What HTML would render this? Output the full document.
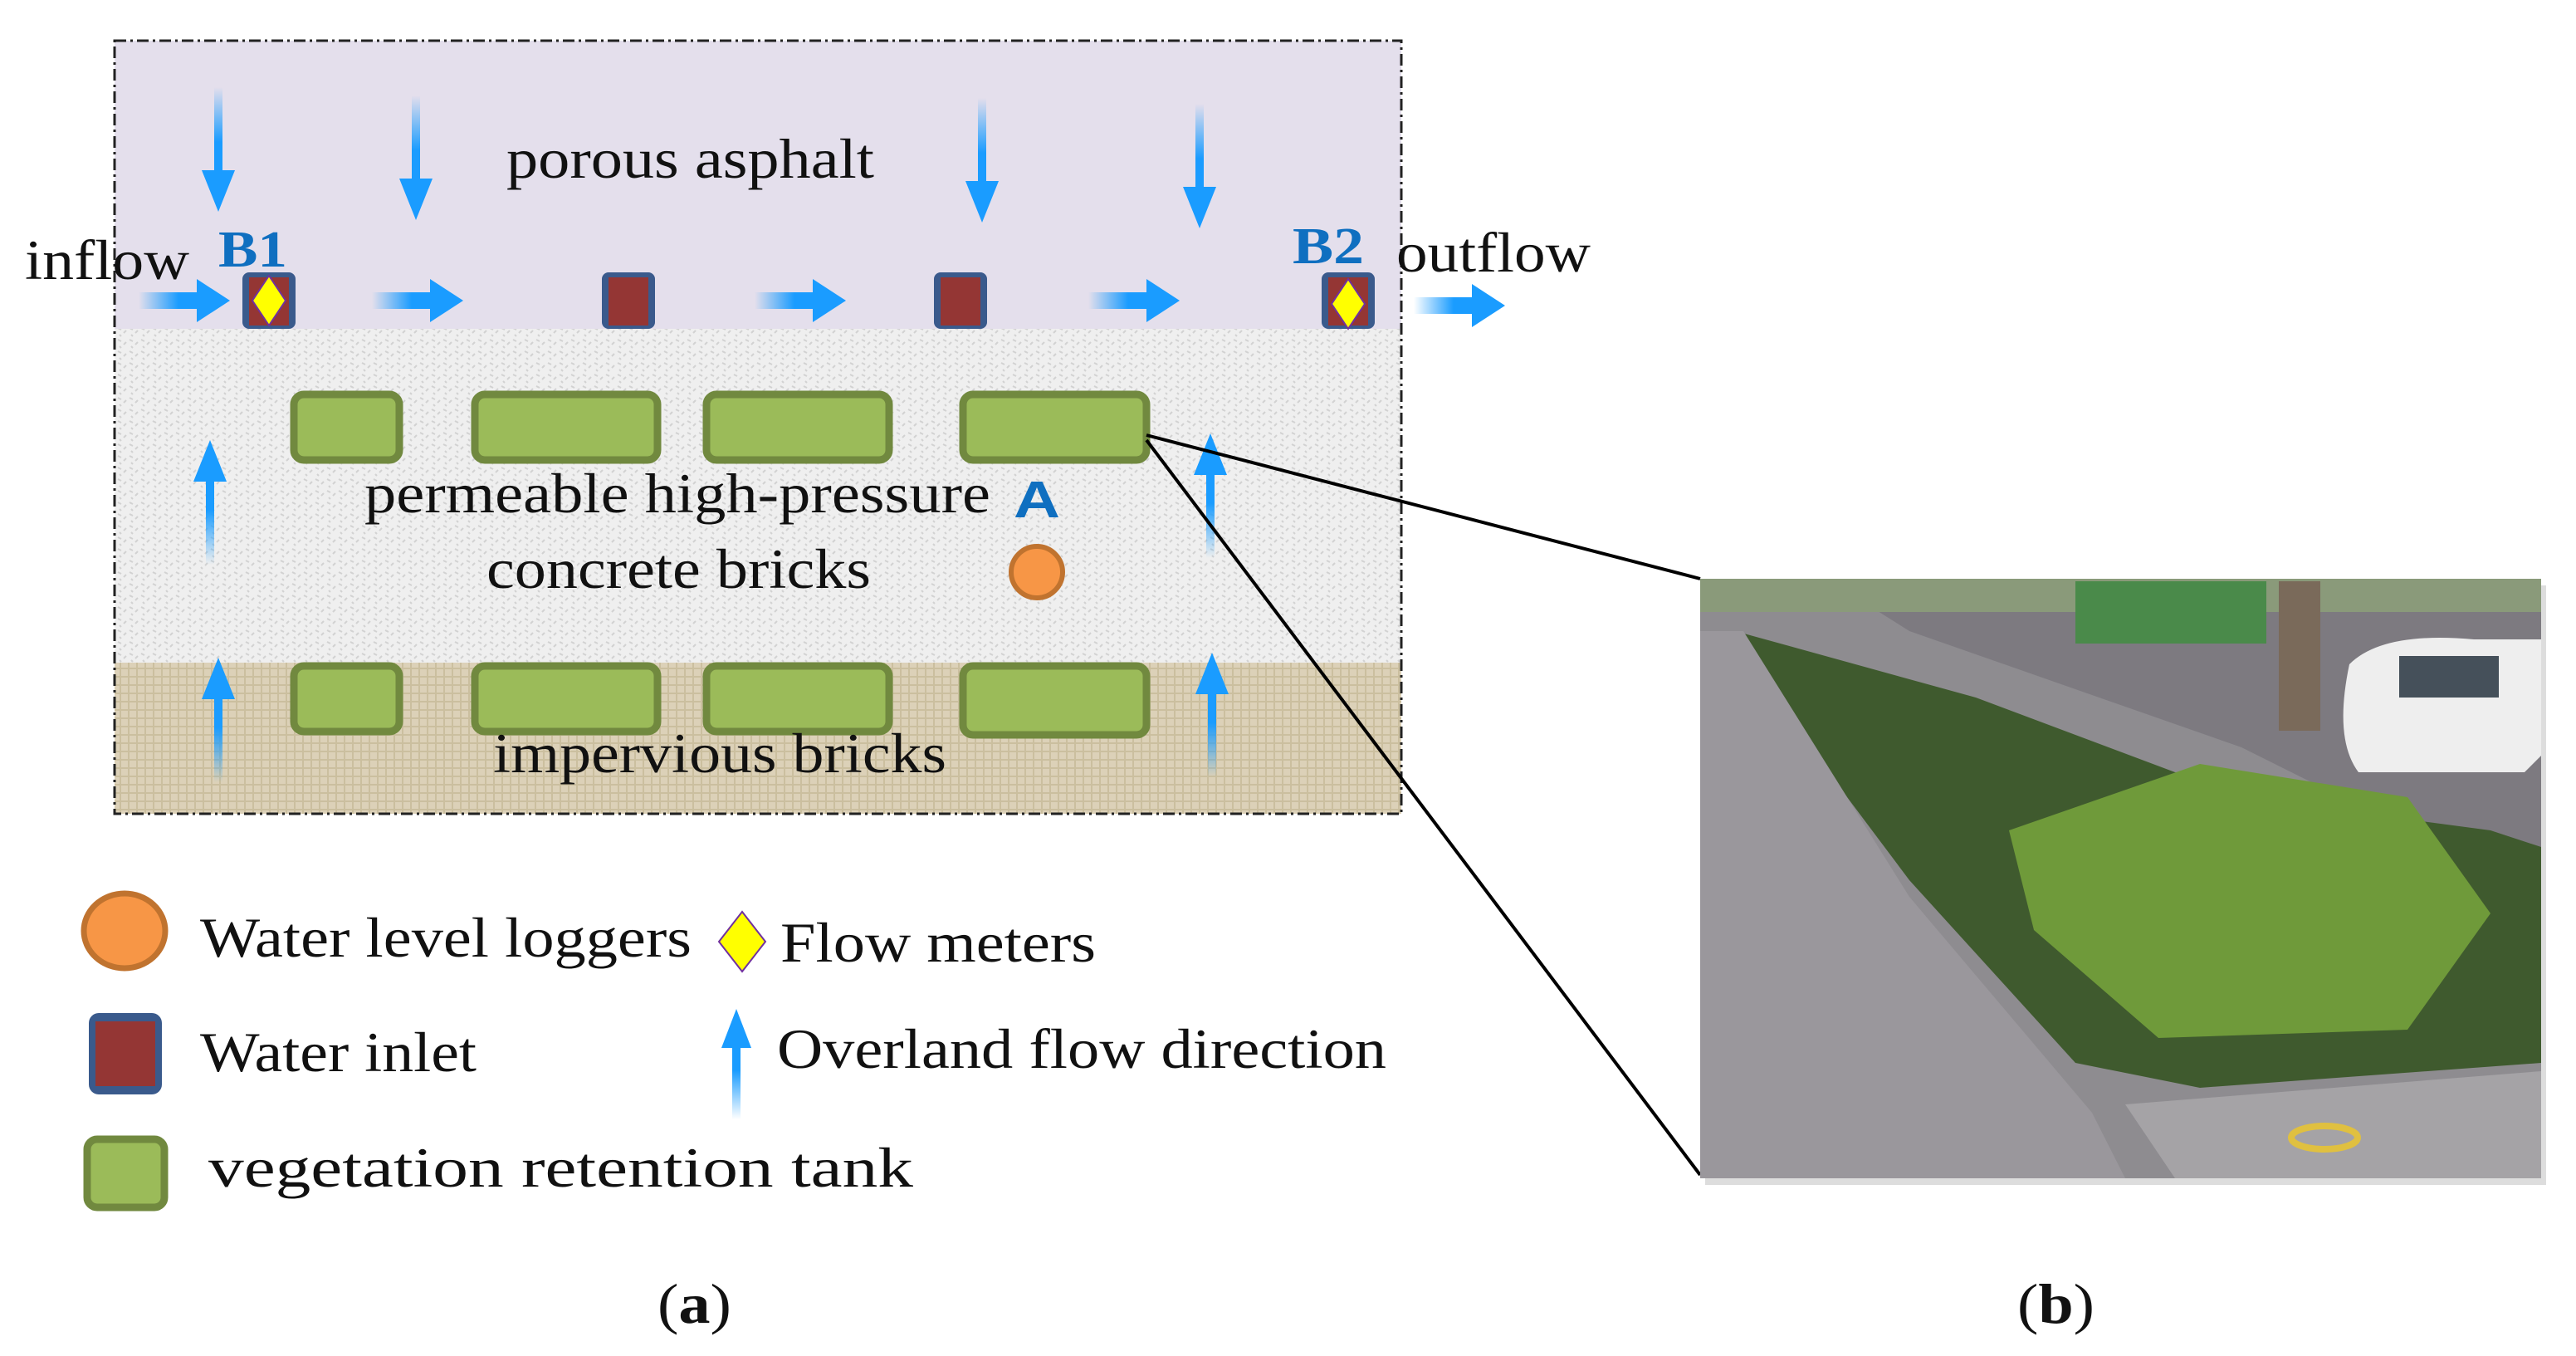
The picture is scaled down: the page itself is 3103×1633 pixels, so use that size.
<!DOCTYPE html>
<html><head><meta charset="utf-8"><style>html,body{margin:0;padding:0;background:#fff}svg{display:block}</style></head><body>
<svg width="3103" height="1633" viewBox="0 0 3103 1633" xmlns="http://www.w3.org/2000/svg" font-family="'Liberation Serif', serif">
<defs>
<linearGradient id="gd" x1="0" y1="0" x2="0" y2="1"><stop offset="0" stop-color="#1a9cff" stop-opacity="0"/><stop offset="0.6" stop-color="#1a9cff"/></linearGradient>
<linearGradient id="gu" x1="0" y1="1" x2="0" y2="0"><stop offset="0" stop-color="#1a9cff" stop-opacity="0"/><stop offset="0.6" stop-color="#1a9cff"/></linearGradient>
<linearGradient id="gr" x1="0" y1="0" x2="1" y2="0"><stop offset="0" stop-color="#1a9cff" stop-opacity="0"/><stop offset="0.6" stop-color="#1a9cff"/></linearGradient>
<pattern id="conc" width="14" height="14" patternUnits="userSpaceOnUse"><rect width="14" height="14" fill="#efefef"/><path d="M2 3l4 2M9 9l3-3M4 11l2 2" stroke="#d2d2d2" stroke-width="2"/></pattern>
<pattern id="burl" width="10" height="10" patternUnits="userSpaceOnUse"><rect width="10" height="10" fill="#dcd1b8"/><path d="M0 5h10M5 0v10" stroke="#cbbf9f" stroke-width="2"/></pattern>
<g id="dn"><rect x="-5" y="-150" width="10" height="110" fill="url(#gd)"/><polygon points="-20,-50 20,-50 0,0" fill="#1a9cff"/></g>
<g id="up"><rect x="-5" y="40" width="10" height="110" fill="url(#gu)"/><polygon points="-20,50 20,50 0,0" fill="#1a9cff"/></g>
<g id="rt"><rect x="-110" y="-10" width="80" height="20" fill="url(#gr)"/><polygon points="-40,-26 -40,26 0,0" fill="#1a9cff"/></g>
<g id="inl"><rect x="-32" y="-30" width="64" height="68" rx="8" fill="#3a5a8c"/><rect x="-24" y="-24" width="48" height="58" fill="#943634"/></g>
</defs>
<rect x="138" y="49" width="1550" height="347" fill="#e4dfec"/>
<rect x="138" y="396" width="1550" height="402" fill="url(#conc)"/>
<rect x="138" y="798" width="1550" height="182" fill="url(#burl)"/>
<rect x="138" y="49" width="1550" height="931" fill="none" stroke="#222" stroke-width="3" stroke-dasharray="14,5,3,5"/>
<use href="#dn" x="263" y="255"/><use href="#dn" x="501" y="265"/><use href="#dn" x="1183" y="268"/><use href="#dn" x="1445" y="275"/>
<use href="#rt" x="277" y="362"/><use href="#rt" x="558" y="362"/><use href="#rt" x="1019" y="362"/><use href="#rt" x="1421" y="362"/><use href="#rt" x="1813" y="368"/>
<use href="#inl" x="324" y="358"/><use href="#inl" x="757" y="358"/><use href="#inl" x="1157" y="358"/><use href="#inl" x="1624" y="358"/>
<polygon points="324,332 344,362 324,392 304,362" fill="#ffff00" stroke="#7030a0" stroke-width="2"/>
<polygon points="1624,336 1644,366 1624,396 1604,366" fill="#ffff00" stroke="#7030a0" stroke-width="2"/>
<g fill="#9bbb59" stroke="#71893f" stroke-width="9">
<rect x="354" y="475" width="127" height="79" rx="12"/><rect x="572" y="475" width="220" height="79" rx="12"/><rect x="851" y="475" width="220" height="79" rx="12"/><rect x="1160" y="475" width="221" height="79" rx="12"/>
<rect x="354" y="802" width="127" height="79" rx="12"/><rect x="572" y="802" width="220" height="79" rx="12"/><rect x="851" y="802" width="220" height="79" rx="12"/><rect x="1160" y="802" width="221" height="83" rx="12"/>
</g>
<use href="#up" x="253" y="530"/><use href="#up" x="1458" y="522"/><use href="#up" x="263" y="792"/><use href="#up" x="1460" y="786"/>
<circle cx="1249" cy="689" r="31" fill="#f79646" stroke="#c0732f" stroke-width="6"/>
<g fill="#111" font-size="68">
<text x="610" y="214" textLength="443" lengthAdjust="spacingAndGlyphs">porous asphalt</text>
<text x="30" y="336" textLength="198" lengthAdjust="spacingAndGlyphs">inflow</text>
<text x="1682" y="327" textLength="234" lengthAdjust="spacingAndGlyphs">outflow</text>
<text x="439" y="617" textLength="754" lengthAdjust="spacingAndGlyphs">permeable high-pressure</text>
<text x="586" y="708" textLength="463" lengthAdjust="spacingAndGlyphs">concrete bricks</text>
<text x="594" y="930" textLength="546" lengthAdjust="spacingAndGlyphs">impervious bricks</text>
<text x="241" y="1152" textLength="592" lengthAdjust="spacingAndGlyphs">Water level loggers</text>
<text x="940" y="1158" textLength="380" lengthAdjust="spacingAndGlyphs">Flow meters</text>
<text x="241" y="1290" textLength="333" lengthAdjust="spacingAndGlyphs">Water inlet</text>
<text x="936" y="1286" textLength="734" lengthAdjust="spacingAndGlyphs">Overland flow direction</text>
<text x="251" y="1429" textLength="849" lengthAdjust="spacingAndGlyphs">vegetation retention tank</text>
<text x="792" y="1593" textLength="89" lengthAdjust="spacingAndGlyphs">(<tspan font-weight="bold">a</tspan>)</text>
<text x="2430" y="1593" textLength="93" lengthAdjust="spacingAndGlyphs">(<tspan font-weight="bold">b</tspan>)</text>
</g>
<g fill="#0f6fc0" font-weight="bold" font-size="62">
<text x="263" y="321" textLength="83" lengthAdjust="spacingAndGlyphs">B1</text>
<text x="1557" y="317" textLength="86" lengthAdjust="spacingAndGlyphs">B2</text>
<text x="1221" y="623" font-family="'Liberation Sans', sans-serif" textLength="56" lengthAdjust="spacingAndGlyphs">A</text>
</g>
<ellipse cx="150" cy="1121" rx="49" ry="45" fill="#f79646" stroke="#c0732f" stroke-width="7"/>
<polygon points="894,1098 922,1134 894,1170 866,1134" fill="#ffff00" stroke="#7030a0" stroke-width="2"/>
<rect x="107" y="1220" width="88" height="98" rx="12" fill="#3a5a8c"/><rect x="115" y="1230" width="72" height="78" fill="#943634"/>
<rect x="882" y="1250" width="10" height="98" fill="url(#gu)"/><polygon points="869,1262 905,1262 887,1215" fill="#1a9cff"/>
<rect x="105" y="1372" width="93" height="82" rx="12" fill="#9bbb59" stroke="#71893f" stroke-width="9"/>
<line x1="1381" y1="524" x2="2048" y2="697" stroke="#000" stroke-width="4"/>
<line x1="1381" y1="530" x2="2048" y2="1415" stroke="#000" stroke-width="4"/>
<rect x="2054" y="705" width="1013" height="722" fill="#bbb" opacity="0.5"/>
<g>
<rect x="2048" y="697" width="1013" height="722" fill="#8e8c90"/>
<polygon points="2200,697 3061,697 3061,1080 2700,900 2300,760" fill="#7d7a80"/>
<rect x="2048" y="697" width="1013" height="40" fill="#8a9a7a"/>
<rect x="2500" y="700" width="230" height="75" fill="#4a8a4a"/>
<path d="M2830 800 q40 -40 150 -30 l81 0 v140 l-20 20 h-200 q-30 -40 -11 -130z" fill="#eeeeee"/>
<rect x="2890" y="790" width="120" height="50" fill="#45505a"/>
<rect x="2745" y="700" width="50" height="180" fill="#7a6a5a"/>
<polygon points="2090,760 2380,840 2700,960 3000,1000 3061,1020 3061,1280 2650,1310 2500,1280 2300,1060 2150,860" fill="#3f5a2e"/>
<polygon points="2420,1000 2650,920 2900,960 3000,1100 2900,1240 2600,1250 2450,1120" fill="#6f9a3a"/>
<polygon points="2048,760 2100,760 2300,1080 2520,1340 2560,1419 2048,1419" fill="#9a979c"/>
<polygon points="2560,1330 3061,1290 3061,1419 2620,1419" fill="#a5a3a6"/>
<ellipse cx="2800" cy="1370" rx="40" ry="14" fill="none" stroke="#e0c040" stroke-width="8"/>
</g>
</svg>
</body></html>
